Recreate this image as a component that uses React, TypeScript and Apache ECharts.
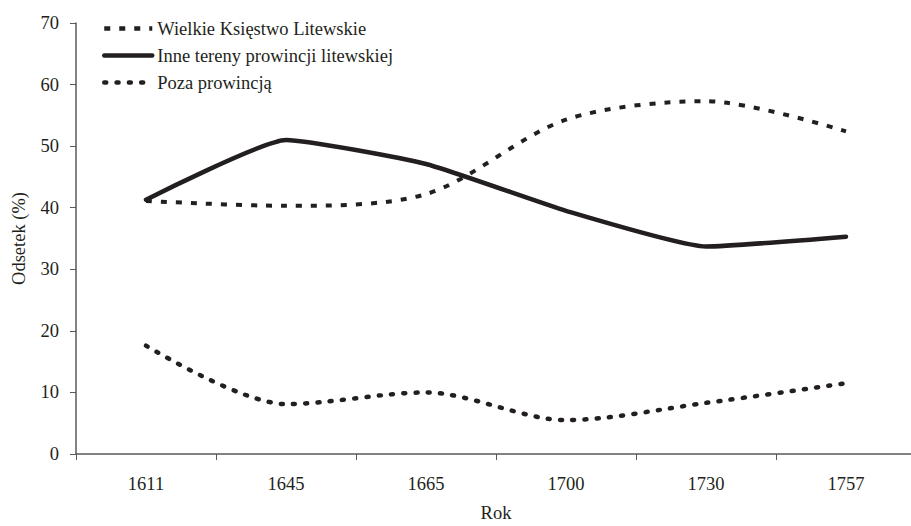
import React, { useEffect, useRef } from "react";
import * as echarts from "echarts";

const years = ["1611", "1645", "1665", "1700", "1730", "1757"];
const wielkie = [41.1, 40.3, 42.2, 54.3, 57.3, 52.4];
const inne = [41.3, 51.0, 47.1, 39.5, 33.7, 35.3];
const poza = [17.6, 8.1, 10.0, 5.5, 8.3, 11.5];
const seriesNames = ["Wielkie Księstwo Litewskie", "Inne tereny prowincji litewskiej", "Poza prowincją"];

const INK = "#231f20";
const AXIS = "#58595b";
const FONT = "Liberation Serif";
const FS = 18.5;

export default function App() {
  const ref = useRef<HTMLDivElement>(null);
  useEffect(() => {
    if (!ref.current) return;
    const chart = echarts.init(ref.current, null, { renderer: "svg" });
    chart.setOption({
      animation: false,
      backgroundColor: "#ffffff",
      textStyle: { fontFamily: FONT, color: INK },
      grid: {
        left: 76,
        right: -5,
        top: 23,
        bottom: 72,
        containLabel: false,
        outerBoundsMode: "none",
      },
      legend: {
        orient: "vertical",
        left: 97,
        top: 14,
        itemWidth: 48,
        itemHeight: 14,
        itemGap: 8,
        itemStyle: { opacity: 0 },
        lineStyle: { width: 4.5 },
        textStyle: { fontFamily: FONT, fontSize: FS, color: INK },
        data: seriesNames,
      },
      xAxis: {
        type: "category",
        data: years,
        boundaryGap: true,
        name: "Rok",
        nameLocation: "middle",
        nameGap: 49,
        nameTextStyle: { fontFamily: FONT, fontSize: FS, color: INK },
        axisLine: { lineStyle: { color: AXIS, width: 1.5 } },
        axisTick: { show: true, length: 6, alignWithLabel: false, lineStyle: { color: AXIS } },
        axisLabel: { fontFamily: FONT, fontSize: FS, color: INK, margin: 20 },
      },
      yAxis: {
        type: "value",
        min: 0,
        max: 70,
        interval: 10,
        name: "Odsetek (%)",
        nameLocation: "middle",
        nameGap: 48,
        nameTextStyle: { fontFamily: FONT, fontSize: FS, color: INK },
        axisLine: { show: true, lineStyle: { color: AXIS, width: 1.5 } },
        axisTick: { show: true, length: 6, lineStyle: { color: AXIS } },
        axisLabel: { fontFamily: FONT, fontSize: FS, color: INK, margin: 17 },
        splitLine: { show: false },
      },
      series: [
        {
          name: seriesNames[0],
          type: "line",
          data: wielkie,
          smooth: 0.3,
          symbol: "none",
          lineStyle: { color: INK, width: 4, type: [6, 9], cap: "butt" },
          itemStyle: { color: INK },
        },
        {
          name: seriesNames[1],
          type: "line",
          data: inne,
          smooth: 0.15,
          symbol: "none",
          lineStyle: { color: INK, width: 4.5, type: "solid", cap: "round" },
          itemStyle: { color: INK },
        },
        {
          name: seriesNames[2],
          type: "line",
          data: poza,
          smooth: 0.3,
          symbol: "none",
          lineStyle: { color: INK, width: 4.5, type: [2, 10.3], cap: "round" },
          itemStyle: { color: INK },
        },
      ],
    });
    return () => chart.dispose();
  }, []);
  return (
    <div
      ref={ref}
      style={{ position: "fixed", left: 0, top: 0, width: 911, height: 526, background: "#fff" }}
    />
  );
}
